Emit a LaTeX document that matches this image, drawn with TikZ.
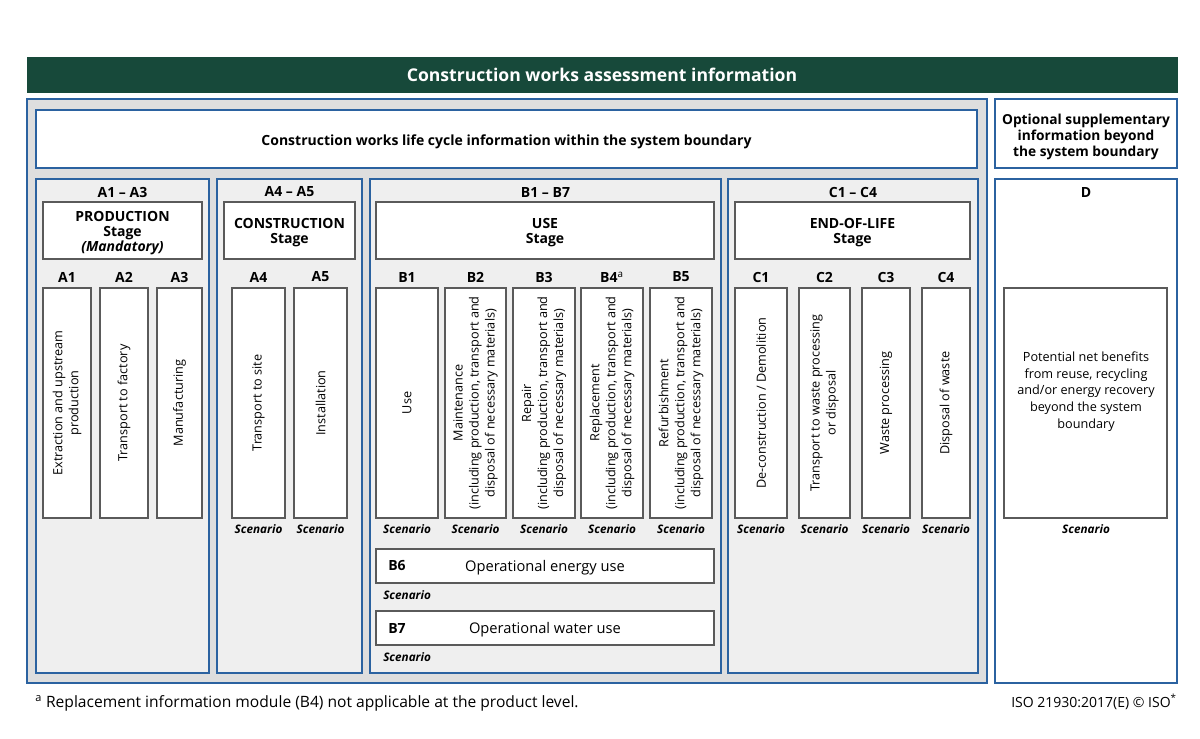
\documentclass[tikz,border=0pt]{standalone}
\usepackage{fontspec}
\setmainfont{Open Sans}
\usepackage{xcolor}
\definecolor{isogreen}{HTML}{17493A}
\definecolor{isoblue}{HTML}{2B62A0}
\definecolor{panelgray}{HTML}{DEDEDE}
\definecolor{stagegray}{HTML}{EFEFEF}
\definecolor{boxgray}{HTML}{5A5A5A}
\usepackage{tikz}
\usetikzlibrary{positioning,fit}
\tikzset{
    lca_header/.style={draw=isogreen, fill=isogreen, inner sep=0pt},
    lca_frame/.style={draw=isoblue, line width=1.5pt, inner sep=0pt},
    lca_panel/.style={lca_frame, fill=panelgray},
    lca_stage/.style={lca_frame, fill=stagegray},
    lca_white/.style={lca_frame, fill=white},
    lca_box/.style={draw=boxgray, line width=0.9pt, fill=white, inner sep=0pt},
    lca_title/.style={font=\bfseries\fontsize{10.5}{11.3}\selectfont, align=center, inner sep=0pt},
    lca_text/.style={font=\fontsize{11}{12.4}\selectfont, align=center, inner sep=0pt},
    lca_vtext/.style={rotate=90, font=\fontsize{9.5}{12}\selectfont, align=center, inner sep=0pt},
    lca_scen/.style={font=\bfseries\itshape\fontsize{8.8}{10}\selectfont, inner sep=0pt}
}

\begin{document}
\begin{tikzpicture}[x=0.75pt, y=-0.75pt]
\useasboundingbox[fill=white] (0,0) rectangle (1200,739);

% header and outer frames
\node[lca_header, fit={(27,57) (1177,92)}] (head) {};
\node[lca_title, text=white, font=\bfseries\fontsize{13.2}{15}\selectfont] at (head.center) {Construction works assessment information};
\node[lca_panel, fit={(27,99) (987,683)}] (panel) {};
\node[lca_white, fit={(36,110) (977,168)}] (banner) {};
\node[lca_title] at (506.5,142) {Construction works life cycle information within the system boundary};
\node[lca_white, fit={(995,99) (1177,168)}] (optional) {};
\node[lca_title, font=\bfseries\fontsize{10.3}{12}\selectfont] at (1086,137) {Optional supplementary\\information beyond\\the system boundary};

% stages
\node[lca_stage, fit={(36,179) (209,673)}] (a13) {};
\node[lca_stage, fit={(217,179) (362,673)}] (a45) {};
\node[lca_stage, fit={(370,179) (721,673)}] (b17) {};
\node[lca_stage, fit={(728,179) (978,673)}] (c14) {};
\node[lca_white, fit={(995,179) (1177,683)}] (dmod) {};
\node[lca_title] at (122.5,192) {A1 -- A3};
\node[lca_title] at (289.5,192) {A4 -- A5};
\node[lca_title] at (545.5,192) {B1 -- B7};
\node[lca_title] at (853,192) {C1 -- C4};
\node[lca_title] at (1086,192) {D};

\node[lca_box, fit={(43,202) (202,259)}] (prod) {};
\node[lca_title] at (122.5,233) {PRODUCTION\\Stage\\\textit{(Mandatory)}};
\node[lca_box, fit={(224,202) (355,259)}] (cons) {};
\node[lca_title] at (289.5,232.5) {CONSTRUCTION\\Stage};
\node[lca_box, fit={(376,202) (714,259)}] (use) {};
\node[lca_title] at (545,232.5) {USE\\Stage};
\node[lca_box, fit={(735,202) (970,259)}] (eol) {};
\node[lca_title] at (852.5,232.5) {END-OF-LIFE\\Stage};

% modules A
\node[lca_box, fit={(43,288) (91,518)}] (a1) {};
\node[lca_box, fit={(100,288) (148,518)}] (a2) {};
\node[lca_box, fit={(157,288) (202,518)}] (a3) {};
\node[lca_box, fit={(232,288) (285,518)}] (a4) {};
\node[lca_box, fit={(294,288) (347,518)}] (a5) {};
\node[lca_title] at (67,277) {A1};
\node[lca_title] at (124,277) {A2};
\node[lca_title] at (179.5,277) {A3};
\node[lca_title] at (258.5,277) {A4};
\node[lca_title] at (320.5,277) {A5};
\node[lca_vtext] at (a1.center) {Extraction and upstream\\production};
\node[lca_vtext] at (a2.center) {Transport to factory};
\node[lca_vtext] at (a3.center) {Manufacturing};
\node[lca_vtext] at (a4.center) {Transport to site};
\node[lca_vtext] at (a5.center) {Installation};
\node[lca_scen] at (258.5,529) {Scenario};
\node[lca_scen] at (320.5,529) {Scenario};

% modules B
\node[lca_box, fit={(376,288) (438,518)}] (b1) {};
\node[lca_box, fit={(445,288) (506,518)}] (b2) {};
\node[lca_box, fit={(513,288) (575,518)}] (b3) {};
\node[lca_box, fit={(581,288) (643,518)}] (b4) {};
\node[lca_box, fit={(650,288) (712,518)}] (b5) {};
\node[lca_title] at (407,277) {B1};
\node[lca_title] at (475.5,277) {B2};
\node[lca_title] at (544,277) {B3};
\node[lca_title] at (612,277) {B4\textsuperscript{\mdseries a}};
\node[lca_title] at (681,277) {B5};
\node[lca_vtext] at (b1.center) {Use};
\node[lca_vtext] at (b2.center) {Maintenance\\(including production, transport and\\disposal of necessary materials)};
\node[lca_vtext] at (b3.center) {Repair\\(including production, transport and\\disposal of necessary materials)};
\node[lca_vtext] at (b4.center) {Replacement\\(including production, transport and\\disposal of necessary materials)};
\node[lca_vtext] at (b5.center) {Refurbishment\\(including production, transport and\\disposal of necessary materials)};
\node[lca_scen] at (407,529) {Scenario};
\node[lca_scen] at (475.5,529) {Scenario};
\node[lca_scen] at (544,529) {Scenario};
\node[lca_scen] at (612,529) {Scenario};
\node[lca_scen] at (681,529) {Scenario};

\node[lca_box, fit={(376,549) (714,583)}] (b6) {};
\node[lca_title, anchor=west] at (388,566) {B6};
\node[lca_text] at (545,567.5) {Operational energy use};
\node[lca_scen, anchor=west] at (383,595) {Scenario};
\node[lca_box, fit={(376,611) (714,645)}] (b7) {};
\node[lca_title, anchor=west] at (388,628) {B7};
\node[lca_text] at (545,629.5) {Operational water use};
\node[lca_scen, anchor=west] at (383,657) {Scenario};

% modules C
\node[lca_box, fit={(735,288) (787,518)}] (c1) {};
\node[lca_box, fit={(799,288) (850,518)}] (c2) {};
\node[lca_box, fit={(862,288) (910,518)}] (c3) {};
\node[lca_box, fit={(922,288) (970,518)}] (c4) {};
\node[lca_title] at (761,277) {C1};
\node[lca_title] at (824.5,277) {C2};
\node[lca_title] at (886,277) {C3};
\node[lca_title] at (946,277) {C4};
\node[lca_vtext] at (c1.center) {De-construction / Demolition};
\node[lca_vtext] at (c2.center) {Transport to waste processing\\or disposal};
\node[lca_vtext] at (c3.center) {Waste processing};
\node[lca_vtext] at (c4.center) {Disposal of waste};
\node[lca_scen] at (761,529) {Scenario};
\node[lca_scen] at (824.5,529) {Scenario};
\node[lca_scen] at (886,529) {Scenario};
\node[lca_scen] at (946,529) {Scenario};

% module D
\node[lca_box, fit={(1004,288) (1167,518)}] (d) {};
\node[lca_text, font=\fontsize{9.5}{12.5}\selectfont] at (1086,391.5) {Potential net benefits\\from reuse, recycling\\and/or energy recovery\\beyond the system\\boundary};
\node[lca_scen] at (1086,529) {Scenario};

% footnote
\node[lca_text, anchor=west, font=\fontsize{11.7}{13}\selectfont] at (35,703) {\textsuperscript{a} Replacement information module (B4) not applicable at the product level.};
\node[lca_text, anchor=east, font=\fontsize{10.5}{12}\selectfont] at (1177,702) {ISO 21930:2017(E) \textcopyright{} ISO\textsuperscript{*}};
\end{tikzpicture}
\end{document}
